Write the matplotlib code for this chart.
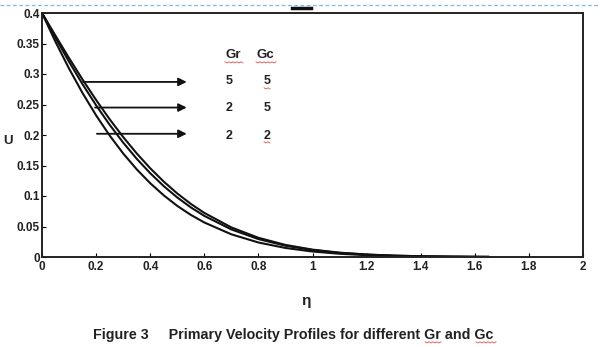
import matplotlib
matplotlib.use("Agg")
import matplotlib.pyplot as plt
from matplotlib.lines import Line2D

plt.rcParams['font.family'] = ['Liberation Sans', 'DejaVu Sans']

eta = [0, 0.05, 0.1, 0.15, 0.2, 0.25, 0.3, 0.35, 0.4, 0.45, 0.5, 0.55, 0.6,
       0.7, 0.8, 0.9, 1.0, 1.1, 1.2, 1.3, 1.4, 1.5, 1.6, 1.65]
u_gr5_gc5 = [0.4, 0.3627, 0.3261, 0.2909, 0.2574, 0.2259, 0.1967, 0.1699, 0.1455,
             0.1236, 0.1042, 0.0871, 0.0723, 0.0485, 0.0315, 0.0198, 0.0121,
             0.0071, 0.0041, 0.0023, 0.0012, 0.0006, 0.0003, 0.0002]
u_gr2_gc5 = [0.4, 0.3592, 0.3201, 0.2832, 0.2487, 0.2168, 0.1876, 0.1611, 0.1374,
             0.1162, 0.0976, 0.0814, 0.0674, 0.0452, 0.0294, 0.0185, 0.0114,
             0.0068, 0.0039, 0.0022, 0.0012, 0.0006, 0.0003, 0.0002]
u_gr2_gc2 = [0.4, 0.3527, 0.3089, 0.2687, 0.2322, 0.1992, 0.1698, 0.1438, 0.1210,
             0.1011, 0.0838, 0.0691, 0.0566, 0.0372, 0.0238, 0.0148, 0.0090,
             0.0053, 0.0030, 0.0017, 0.0009, 0.0005, 0.0002, 0.0001]

table_header = ["Gr", "Gc"]
table_rows = [("5", "5"), ("2", "5"), ("2", "2")]

xticks = [0, 0.2, 0.4, 0.6, 0.8, 1, 1.2, 1.4, 1.6, 1.8, 2]
xticklabels = ["0", "0.2", "0.4", "0.6", "0.8", "1", "1.2", "1.4", "1.6", "1.8", "2"]
yticks = [0, 0.05, 0.1, 0.15, 0.2, 0.25, 0.3, 0.35, 0.4]
yticklabels = ["0", "0.05", "0.1", "0.15", "0.2", "0.25", "0.3", "0.35", "0.4"]

W, H = 600, 347
TXT = '#222222'
fig = plt.figure(figsize=(6.0, 3.47), dpi=100)
ax = fig.add_axes([42 / W, 1 - 257 / H, (583 - 42) / W, (257 - 13) / H])

for u in (u_gr5_gc5, u_gr2_gc5, u_gr2_gc2):
    ax.plot(eta, u, color='#111111', lw=1.5)

ax.set_xlim(0, 2)
ax.set_ylim(0, 0.4)
ax.set_xticks(xticks)
ax.set_xticklabels(xticklabels)
ax.set_yticks(yticks)
ax.set_yticklabels(yticklabels)
for lab in ax.get_xticklabels() + ax.get_yticklabels():
    lab.set_fontweight('bold')
    lab.set_fontsize(8.5)
    lab.set_color(TXT)
ax.tick_params(direction='in', length=3, width=0.8)
ax.tick_params(axis='y', pad=1.5)
ax.tick_params(axis='x', pad=3)
for sp in ax.spines.values():
    sp.set_linewidth(1.4)
    sp.set_color('#222222')

# arrows pointing from curves to the table
arrow_y = [0.287, 0.245, 0.202]
arrow_x0 = [0.152, 0.196, 0.203]
for y, x0 in zip(arrow_y, arrow_x0):
    ax.annotate('', xy=(0.535, y), xytext=(x0, y),
                arrowprops=dict(arrowstyle='-|>', color='#111111', lw=1.3,
                                mutation_scale=12, shrinkA=0, shrinkB=0))

# table text
hx = [0.708, 0.825]
vx = [0.69, 0.832]
for x, s in zip(hx, table_header):
    ax.text(x, 0.331, s, ha='center', va='center', fontsize=9.5,
            fontweight='bold', color=TXT)
row_y = [0.289, 0.245, 0.199]
for (gr, gc), y in zip(table_rows, row_y):
    ax.text(vx[0], y, gr, ha='center', va='center', fontsize=9,
            fontweight='bold', color=TXT)
    ax.text(vx[1], y, gc, ha='center', va='center', fontsize=9,
            fontweight='bold', color=TXT)

# labels
fig.text(3 / W, 1 - 141 / H, "U", ha='left', va='center', fontsize=9.5,
         fontweight='bold', color=TXT)
fig.text(306 / W, 1 - 301 / H, "η", ha='center', va='center', fontsize=11,
         fontweight='bold', color=TXT)
fig.text(293 / W, 1 - 335 / H,
         "Figure 3     Primary Velocity Profiles for different Gr and Gc",
         ha='center', va='center', fontsize=10.3, fontweight='bold', color=TXT)

# spell-check style red squiggles (decoration)
def squiggle(x0, x1, y):
    xs, ys = [], []
    n = int((x1 - x0) / 2)
    for i in range(n + 1):
        xs.append((x0 + 2 * i) / W)
        ys.append(1 - (y + (1 if i % 2 else -0.2)) / H)
    fig.add_artist(Line2D(xs, ys, transform=fig.transFigure, color='#e05050', lw=0.6))

squiggle(225, 243, 62)
squiggle(256, 276, 62)
squiggle(264, 270, 88)
squiggle(264, 270, 142)
squiggle(425, 442, 342)
squiggle(476, 496, 342)

# page decorations
fig.add_artist(Line2D([0, 1], [1 - 5 / H, 1 - 5 / H], transform=fig.transFigure,
                      color='#8fb0e8', lw=0.9, ls=(0, (3, 2))))
fig.add_artist(Line2D([292 / W, 311 / W], [1 - 8 / H, 1 - 8 / H],
                      transform=fig.transFigure, color='#111111', lw=2.5))

fig.savefig("out.png", dpi=100)
